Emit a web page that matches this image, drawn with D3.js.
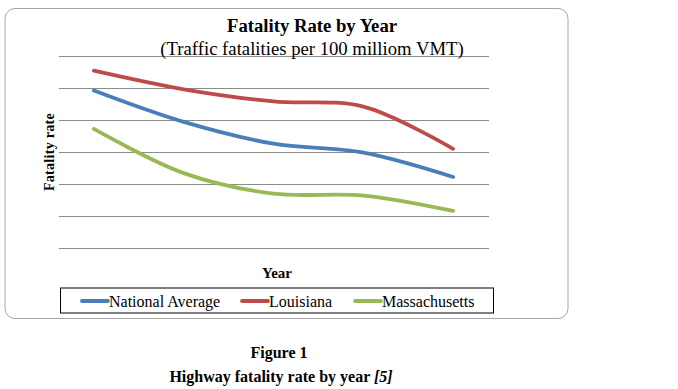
<!DOCTYPE html>
<html>
<head>
<meta charset="utf-8">
<script src="https://cdn.jsdelivr.net/npm/d3@7"></script>
<style>
  body { margin: 0; background: #fff; }
  text { font-family: "Liberation Serif", "Times New Roman", serif; fill: #000; }
</style>
</head>
<body>
<svg id="chart" width="678" height="389"></svg>
<script>
// chart data (no labels on the axes)
const years = ["Y1", "Y2", "Y3", "Y4", "Y5"];
const seriesNames = ["National Average", "Louisiana", "Massachusetts"];
const nationalAverage = [2.46, 1.97, 1.63, 1.49, 1.11];
const louisiana = [2.77, 2.48, 2.29, 2.21, 1.55];
const massachusetts = [1.86, 1.17, 0.85, 0.82, 0.58];
const yTicks = [0, 0.5, 1, 1.5, 2, 2.5, 3];
const colors = ["#4a7ebb", "#be4b48", "#98b954"];

const series = [nationalAverage, louisiana, massachusetts].map((vals, i) => ({
    name: seriesNames[i],
    color: colors[i],
    values: vals.map((v, j) => ({ year: years[j], v: v }))
}));

const svg = d3.select("#chart");

// outer chart frame
svg.append("rect")
    .attr("x", 5).attr("y", 8.5)
    .attr("width", 563).attr("height", 310)
    .attr("rx", 10)
    .attr("fill", "#fff")
    .attr("stroke", "#a6a6a6")
    .attr("stroke-width", 1);

const x = d3.scalePoint().domain(years).range([49, 498]).padding(0.5);
const y = d3.scaleLinear().domain([0, 3]).range([248, 56]);

// gridlines via an axis with no labels
svg.append("g")
    .attr("transform", "translate(59,0)")
    .call(d3.axisLeft(y).tickValues(yTicks).tickSize(-430).tickFormat(""))
    .call(g => g.select(".domain").remove())
    .call(g => g.selectAll(".tick line").attr("stroke", "#8c8c8c").attr("stroke-width", 1));

const line = d3.line()
    .x(d => x(d.year))
    .y(d => y(d.v))
    .curve(d3.curveCatmullRom.alpha(0.5));

svg.append("g").selectAll("path")
    .data(series)
    .enter()
    .append("path")
    .attr("d", d => line(d.values))
    .attr("fill", "none")
    .attr("stroke", d => d.color)
    .attr("stroke-width", 3.8)
    .attr("stroke-linecap", "round");

// titles
svg.append("text")
    .attr("x", 312).attr("y", 32)
    .attr("text-anchor", "middle")
    .attr("font-size", 18.7).attr("font-weight", "bold")
    .text("Fatality Rate by Year");
svg.append("text")
    .attr("x", 312).attr("y", 55)
    .attr("text-anchor", "middle")
    .attr("font-size", 18.7)
    .text("(Traffic fatalities per 100 milliom VMT)");

svg.append("text")
    .attr("transform", "translate(54,152) rotate(-90)")
    .attr("text-anchor", "middle")
    .attr("font-size", 14).attr("font-weight", "bold")
    .attr("letter-spacing", 0.3)
    .text("Fatality rate");

svg.append("text")
    .attr("x", 277).attr("y", 278)
    .attr("text-anchor", "middle")
    .attr("font-size", 15).attr("font-weight", "bold")
    .text("Year");

// legend
svg.append("rect")
    .attr("x", 60.5).attr("y", 288)
    .attr("width", 433).attr("height", 25)
    .attr("fill", "#fff")
    .attr("stroke", "#000")
    .attr("stroke-width", 1);

const legendX = [82, 242, 355];
const legend = svg.append("g").selectAll("g")
    .data(series)
    .enter()
    .append("g")
    .attr("transform", (d, i) => "translate(" + legendX[i] + ",301)");
legend.append("line")
    .attr("x1", 0).attr("x2", 26)
    .attr("stroke", d => d.color)
    .attr("stroke-width", 3.8)
    .attr("stroke-linecap", "round");
legend.append("text")
    .attr("x", 27).attr("y", 5.5)
    .attr("font-size", 16)
    .text(d => d.name);

// caption under the chart
svg.append("text")
    .attr("x", 279).attr("y", 358)
    .attr("text-anchor", "middle")
    .attr("font-size", 16).attr("font-weight", "bold")
    .text("Figure 1");
const cap = svg.append("text")
    .attr("x", 281).attr("y", 382)
    .attr("text-anchor", "middle")
    .attr("font-size", 16).attr("font-weight", "bold");
cap.append("tspan").text("Highway fatality rate by year ");
cap.append("tspan").attr("font-style", "italic").text("[5]");
</script>
</body>
</html>
